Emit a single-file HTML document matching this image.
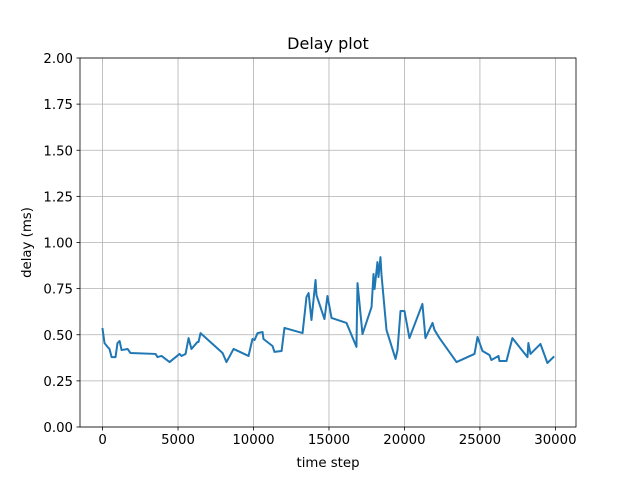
<!DOCTYPE html>
<html><head><meta charset="utf-8"><style>
body{margin:0;background:#fff}
svg{display:block;font-family:"DejaVu Sans","Liberation Sans",sans-serif}
</style></head><body>
<svg id="chart" width="640" height="480"></svg>
<script>
const steps=[0,130,330,460,600,860,990,1130,1260,1660,1850,3510,3640,3910,4440,5100,5230,5500,5700,5890,6290,6360,6490,7950,8210,8680,9670,9930,10070,10270,10600,10660,11260,11390,11860,12050,13250,13510,13650,13840,14110,14170,14700,14900,15170,16160,16820,16890,17220,17820,17950,18020,18210,18280,18410,18480,18810,19410,19540,19740,20000,20330,21190,21390,21860,21990,22320,23450,24640,24840,25170,25630,25760,26230,26290,26760,27150,28150,28210,28350,29010,29470,29870];
const delays=[0.531,0.455,0.434,0.423,0.379,0.379,0.455,0.466,0.417,0.423,0.401,0.396,0.379,0.385,0.352,0.396,0.385,0.396,0.482,0.423,0.461,0.461,0.509,0.401,0.352,0.423,0.385,0.477,0.472,0.509,0.515,0.477,0.439,0.407,0.412,0.537,0.509,0.705,0.726,0.58,0.797,0.715,0.585,0.71,0.591,0.564,0.434,0.78,0.504,0.65,0.829,0.748,0.894,0.813,0.921,0.824,0.526,0.369,0.417,0.629,0.629,0.482,0.667,0.482,0.564,0.526,0.482,0.352,0.396,0.488,0.412,0.39,0.363,0.385,0.358,0.358,0.482,0.379,0.455,0.396,0.45,0.347,0.379];
const xTicks=[0,5000,10000,15000,20000,25000,30000];
const yTicks=[0,0.25,0.5,0.75,1.0,1.25,1.5,1.75,2.0];
const L=80,R=576,T=58,B=427,xmin=-1494,xmax=31364,ymin=0,ymax=2;
const X=t=>L+(t-xmin)/(xmax-xmin)*(R-L);
const Y=v=>B-(v-ymin)/(ymax-ymin)*(B-T);
const svg=document.getElementById('chart');
const NS='http://www.w3.org/2000/svg';
function mk(tag,attrs,parent){const e=document.createElementNS(NS,tag);for(const k in attrs)e.setAttribute(k,attrs[k]);(parent||svg).appendChild(e);return e;}
const grid=mk('g',{});


xTicks.forEach(t=>{
  const x=X(t);
  mk('line',{x1:x,x2:x,y1:T,y2:B,stroke:'#b0b0b0','stroke-width':0.8},grid);
  mk('line',{x1:x,x2:x,y1:B,y2:B+3.5,stroke:'#000','stroke-width':0.8});
  const tx=mk('text',{x:x,y:B+17,'text-anchor':'middle','font-size':'13.3px'});
  tx.textContent=String(t);
  
  
});
yTicks.forEach(v=>{
  const y=Y(v);
  mk('line',{x1:L,x2:R,y1:y,y2:y,stroke:'#b0b0b0','stroke-width':0.8},grid);
  mk('line',{x1:L-3.5,x2:L,y1:y,y2:y,stroke:'#000','stroke-width':0.8});
  const tx=mk('text',{x:L-7,y:y+5,'text-anchor':'end','font-size':'13.3px'});
  tx.textContent=v.toFixed(2);
  
  
});
const line=mk('polyline',{points:steps.map((t,i)=>X(t)+','+Y(delays[i])).join(' '),fill:'none',stroke:'#1f77b4','stroke-width':2,'stroke-linejoin':'round','stroke-linecap':'square'});


const frame=mk('rect',{x:L,y:T,width:R-L,height:B-T,fill:'none',stroke:'#000','stroke-width':0.8});


const title=mk('text',{x:(L+R)/2,y:T-9,'text-anchor':'middle','font-size':'16px'});
title.textContent='Delay plot';


const xl=mk('text',{x:(L+R)/2,y:467,'text-anchor':'middle','font-size':'13.3px'});
xl.textContent='time step';


const yl=mk('text',{x:0,y:0,'text-anchor':'middle','font-size':'13.3px',transform:'translate(31,'+((T+B)/2)+') rotate(-90)'});
yl.textContent='delay (ms)';


</script>
</body></html>
